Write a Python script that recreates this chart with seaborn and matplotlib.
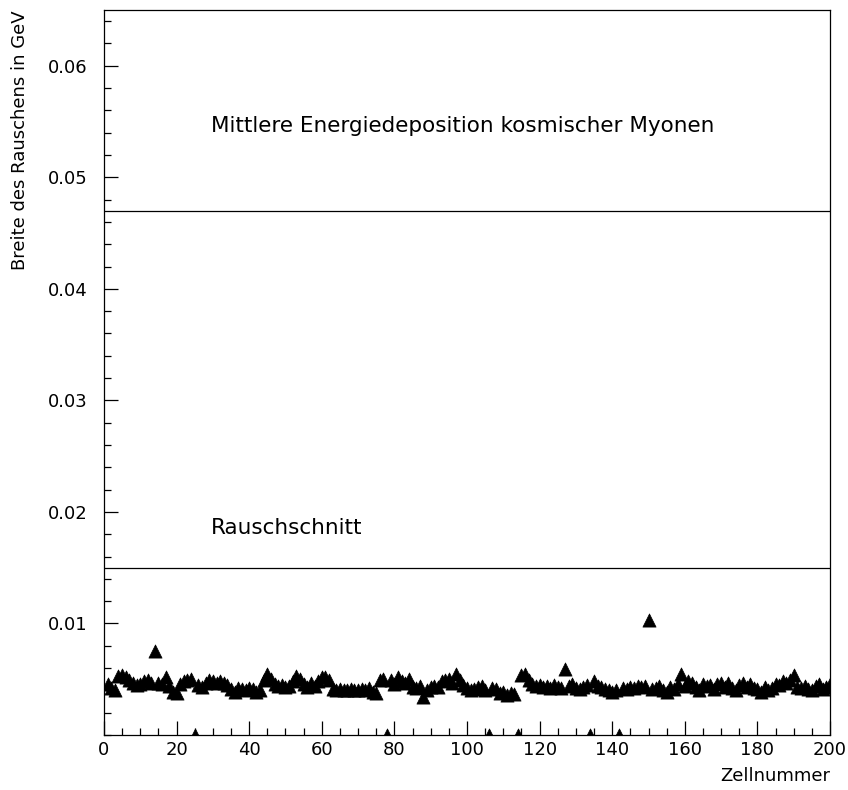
import numpy as np
import pandas as pd
import matplotlib
matplotlib.use("Agg")
import matplotlib.pyplot as plt
from matplotlib.ticker import MultipleLocator, FixedLocator
import seaborn as sns

cells = list(range(1, 201))
noise = [
    0.0046, 0.0042, 0.0040, 0.0053, 0.0054, 0.0052, 0.0049, 0.0047, 0.0045, 0.0046,
    0.0048, 0.0049, 0.0047, 0.0075, 0.0047, 0.0046, 0.0052, 0.0044, 0.0039, 0.0038,
    0.0046, 0.0048, 0.0049, 0.0050, 0.0000, 0.0045, 0.0043, 0.0047, 0.0049, 0.0048,
    0.0047, 0.0048, 0.0047, 0.0045, 0.0041, 0.0039, 0.0042, 0.0041, 0.0040, 0.0042,
    0.0041, 0.0039, 0.0040, 0.0049, 0.0055, 0.0050, 0.0046, 0.0044, 0.0045, 0.0043,
    0.0044, 0.0048, 0.0053, 0.0050, 0.0046, 0.0043, 0.0047, 0.0044, 0.0048, 0.0052,
    0.0052, 0.0049, 0.0041, 0.0040, 0.0041, 0.0040, 0.0040, 0.0041, 0.0040, 0.0040,
    0.0041, 0.0040, 0.0042, 0.0039, 0.0038, 0.0049, 0.0050, 0.0000, 0.0049, 0.0046,
    0.0052, 0.0048, 0.0047, 0.0050, 0.0043, 0.0042, 0.0044, 0.0034, 0.0040, 0.0043,
    0.0044, 0.0043, 0.0048, 0.0049, 0.0050, 0.0047, 0.0055, 0.0049, 0.0045, 0.0042,
    0.0040, 0.0041, 0.0043, 0.0044, 0.0040, 0.0000, 0.0042, 0.0041, 0.0038, 0.0039,
    0.0036, 0.0038, 0.0037, 0.0000, 0.0054, 0.0055, 0.0049, 0.0046, 0.0044, 0.0045,
    0.0043, 0.0044, 0.0042, 0.0045, 0.0043, 0.0042, 0.0059, 0.0044, 0.0046, 0.0042,
    0.0041, 0.0043, 0.0045, 0.0000, 0.0048, 0.0044, 0.0043, 0.0041, 0.0040, 0.0039,
    0.0040, 0.0000, 0.0042, 0.0041, 0.0043, 0.0042, 0.0044, 0.0043, 0.0044, 0.0103,
    0.0041, 0.0042, 0.0044, 0.0040, 0.0039, 0.0043, 0.0041, 0.0046, 0.0055, 0.0044,
    0.0048, 0.0047, 0.0043, 0.0040, 0.0046, 0.0044, 0.0045, 0.0041, 0.0046, 0.0047,
    0.0043, 0.0047, 0.0042, 0.0040, 0.0045, 0.0047, 0.0043, 0.0046, 0.0042, 0.0041,
    0.0039, 0.0043, 0.0040, 0.0042, 0.0046, 0.0045, 0.0048, 0.0047, 0.0049, 0.0054,
    0.0043, 0.0042, 0.0044, 0.0041, 0.0040, 0.0044, 0.0046, 0.0041, 0.0043, 0.0046,
]
myon_level = 0.047
cut_level = 0.015
myon_text = "Mittlere Energiedeposition kosmischer Myonen"
cut_text = "Rauschschnitt"
y_ticks = [0.01, 0.02, 0.03, 0.04, 0.05, 0.06]
y_tick_labels = ["0.01", "0.02", "0.03", "0.04", "0.05", "0.06"]

sns.set_style("ticks")
plt.rcParams["font.family"] = ["DejaVu Sans"]
plt.rcParams["text.color"] = "black"
plt.rcParams["xtick.labelcolor"] = "black"
plt.rcParams["ytick.labelcolor"] = "black"

df = pd.DataFrame({"cell": cells, "noise": noise})

fig = plt.figure(figsize=(8.48, 7.9), dpi=100)
ax = fig.add_axes([0.1226, 0.0696, 0.8562, 0.9177])

sns.scatterplot(data=df, x="cell", y="noise", marker="^", s=90, color="black",
                edgecolor="black", linewidth=0.5, ax=ax, legend=False, zorder=3)

ax.axhline(myon_level, color="black", lw=0.9)
ax.axhline(cut_level, color="black", lw=0.9)
ax.text(29.5, 0.0546, myon_text, fontsize=15.5, va="center", ha="left", color="black")
ax.text(29.5, 0.0186, cut_text, fontsize=15.5, va="center", ha="left", color="black")

ax.set_xlim(0, 200)
ax.set_ylim(0, 0.065)
ax.xaxis.set_major_locator(MultipleLocator(20))
ax.xaxis.set_minor_locator(MultipleLocator(5))
ax.yaxis.set_major_locator(FixedLocator(y_ticks))
ax.set_yticklabels(y_tick_labels)
ax.yaxis.set_minor_locator(MultipleLocator(0.002))
ax.tick_params(axis="both", which="major", direction="in", length=10, width=0.9,
               labelsize=13, top=False, right=False, color="black", labelcolor="black")
ax.tick_params(axis="x", which="major", pad=4)
ax.tick_params(axis="y", which="major", pad=12)
ax.tick_params(axis="both", which="minor", direction="in", length=5, width=0.9,
               top=False, right=False, color="black")
for s in ax.spines.values():
    s.set_visible(True)
    s.set_linewidth(0.9)
    s.set_color("black")

ax.set_xlabel("")
ax.set_ylabel("")
fig.text(0.979, 0.018, "Zellnummer", fontsize=13, ha="right", va="center", color="black")
fig.text(0.024, 0.987, "Breite des Rauschens in GeV", fontsize=13, rotation=90,
         ha="center", va="top", color="black")

fig.savefig("out.png", dpi=100)
